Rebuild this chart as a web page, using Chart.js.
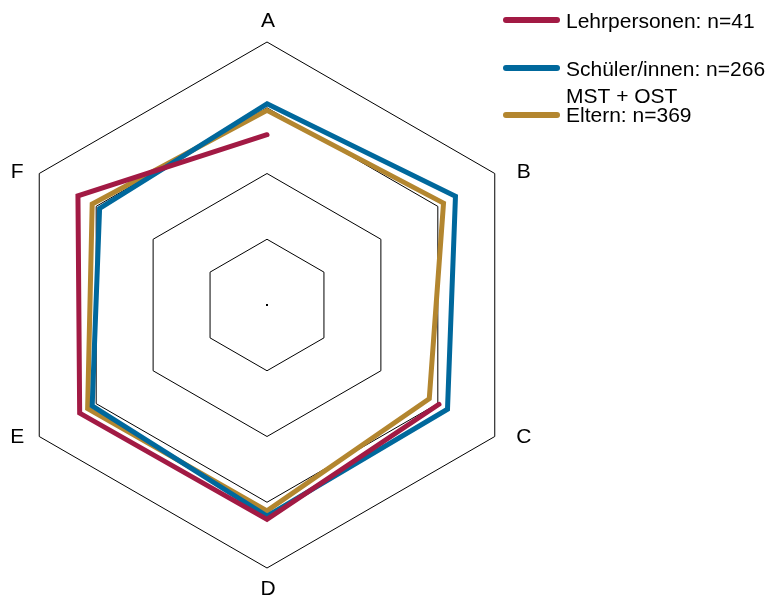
<!DOCTYPE html>
<html>
<head>
<meta charset="utf-8">
<script src="https://cdn.jsdelivr.net/npm/chart.js@4"></script>
<style>
  body { margin: 0; background: #fff; }
</style>
</head>
<body>
<canvas id="chart_1" width="780" height="602"></canvas>
<script>
// radar: three groups rated on A-F
var categories = ['A', 'B', 'C', 'D', 'E', 'F'];
var seriesNames = ['Lehrpersonen: n=41', 'Schüler/innen: n=266', 'Eltern: n=369'];
var legendTexts = [['Lehrpersonen: n=41'], ['Schüler/innen: n=266'], ['MST + OST', 'Eltern: n=369']];
var lehrpersonen = [2.59, null, 3.02, 3.26, 3.29, 3.32];
var schueler = [3.06, 3.31, 3.17, 3.21, 3.07, 2.94];
var eltern = [2.96, 3.10, 2.85, 3.13, 3.15, 3.07];
var tickValues = [0, 1, 2, 3, 4];
var colors = ['#a21a44', '#00689c', '#b3862f'];

var FONT = '"Liberation Sans", Arial, sans-serif';

// corner labels: the built-in ones sit too high on the slanted corners,
// so put them level with each corner instead
var cornerLabels = {
    id: 'cornerLabels',
    afterDraw: function(chart) {
        var r = chart.scales.r;
        var ctx = chart.ctx;
        ctx.save();
        ctx.font = '21px ' + FONT;
        ctx.fillStyle = '#000';
        ctx.textAlign = 'center';
        ctx.textBaseline = 'middle';
        for (var i = 0; i < categories.length; i++) {
            var p = r.getPointPosition(i, r.drawingArea);
            var dx = p.x - r.xCenter;
            var x = p.x + 1, y = p.y;
            if (Math.abs(dx) < 1) {
                y += (p.y < r.yCenter ? -21 : 21);
            } else {
                x += (dx > 0 ? 28 : -23);
                y += (p.y < r.yCenter ? -1 : 1);
            }
            ctx.fillText(categories[i], x, y);
        }
        ctx.restore();
    }
};

// legend on the right, drawn by hand (the built-in one can't do this layout)
var sideLegend = {
    id: 'sideLegend',
    afterDraw: function(chart) {
        var ctx = chart.ctx;
        var lineY = [20, 68, 115];
        var baseY = [[28], [76], [103, 122]];
        ctx.save();
        ctx.font = '21px ' + FONT;
        ctx.fillStyle = '#000';
        ctx.textBaseline = 'alphabetic';
        ctx.lineCap = 'round';
        ctx.lineWidth = 6;
        for (var i = 0; i < legendTexts.length; i++) {
            ctx.strokeStyle = colors[i];
            ctx.beginPath();
            ctx.moveTo(506, lineY[i]);
            ctx.lineTo(557, lineY[i]);
            ctx.stroke();
            for (var j = 0; j < legendTexts[i].length; j++) {
                ctx.fillText(legendTexts[i][j], 566, baseY[i][j]);
            }
        }
        // little dot in the middle
        var r = chart.scales.r;
        ctx.fillRect(r.xCenter - 1, r.yCenter - 1, 2, 2);
        ctx.restore();
    }
};

var ctx = document.getElementById('chart_1').getContext('2d');
var myRadarChart = new Chart(ctx, {
    type: 'radar',
    data: {
        labels: categories,
        datasets: [
            { label: seriesNames[0], data: lehrpersonen, borderColor: colors[0] },
            { label: seriesNames[1], data: schueler, borderColor: colors[1] },
            { label: seriesNames[2], data: eltern, borderColor: colors[2] }
        ]
    },
    options: {
        responsive: false,
        animation: false,
        layout: { padding: { top: 42, right: 250, bottom: 34, left: 4 } },
        elements: {
            line: { borderWidth: 5, fill: false, tension: 0, borderCapStyle: 'round', borderJoinStyle: 'miter' },
            point: { radius: 0, hoverRadius: 0 }
        },
        spanGaps: false,
        scales: {
            r: {
                min: tickValues[0],
                max: tickValues[tickValues.length - 1],
                ticks: { stepSize: 1, display: false },
                grid: { color: '#000', lineWidth: 1 },
                angleLines: { display: false },
                pointLabels: { display: false }
            }
        },
        plugins: {
            legend: { display: false },
            tooltip: { enabled: false }
        }
    },
    plugins: [cornerLabels, sideLegend]
});
</script>
</body>
</html>
